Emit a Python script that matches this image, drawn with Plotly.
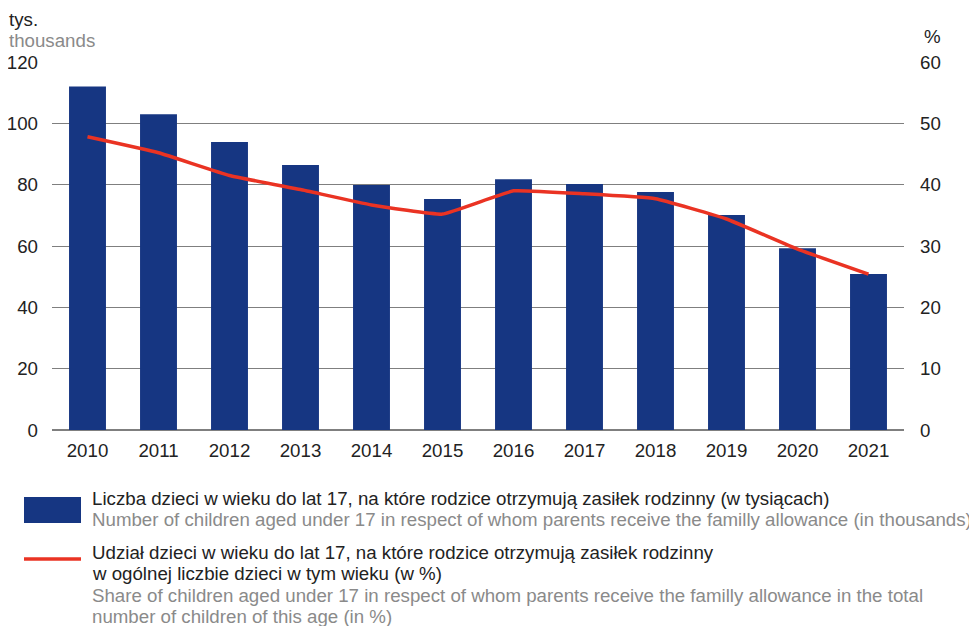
import plotly.graph_objects as go

years = ["2010", "2011", "2012", "2013", "2014", "2015", "2016", "2017", "2018", "2019", "2020", "2021"]
children_thousands = [112.0, 103.0, 93.9, 86.4, 79.9, 75.3, 81.8, 80.2, 77.6, 70.1, 59.3, 50.9]
share_percent = [47.8, 45.2, 41.5, 39.2, 36.7, 35.2, 39.0, 38.5, 37.7, 34.4, 29.5, 25.4]

left_ticks = [0, 20, 40, 60, 80, 100, 120]
right_ticks = [0, 10, 20, 30, 40, 50, 60]

BLUE = "#163682"
RED = "#EA3323"
DARK = "#222222"
GREY = "#8a8a8a"
FONT = "Liberation Sans, Arial, sans-serif"
FS = 18.7

OFF = 8  # page body margin offset
W, H = 977 - OFF, 626 - OFF
# plot area in page pixels: x 52..904, y 62..430
L = 52 - OFF
T = 62 - OFF
PW = 904 - 52
PH = 430 - 62
R = W - L - PW
B = H - T - PH

def px(x):
    return (x - OFF - L) / PW

def py(y):
    return (T + PH - (y - OFF)) / PH

fig = go.Figure()
fig.add_trace(go.Bar(x=years, y=children_thousands, marker_color=BLUE, marker_line_width=0,
                     name="bars", yaxis="y"))
fig.add_trace(go.Scatter(x=years, y=share_percent, mode="lines",
                         line=dict(color=RED, width=3.5, shape="spline", smoothing=0.3),
                         name="line", yaxis="y2"))

annotations = []
def txt(x, y, s, color, xanchor="left", yanchor="middle"):
    annotations.append(dict(x=px(x), y=py(y), xref="paper", yref="paper", text=s, showarrow=False,
                            xanchor=xanchor, yanchor=yanchor, borderpad=0,
                            font=dict(family=FONT, size=FS, color=color)))

txt(8, 8, "tys.", DARK, yanchor="top")
txt(8, 41, "thousands", GREY)
txt(942, 36, "%", DARK, xanchor="right")

txt(91, 498, "Liczba dzieci w wieku do lat 17, na które rodzice otrzymują zasiłek rodzinny (w tysiącach)", DARK)
txt(91, 519, "Number of children aged under 17 in respect of whom parents receive the familly allowance (in thousands)", GREY)
txt(91, 552, "Udział dzieci w wieku do lat 17, na które rodzice otrzymują zasiłek rodzinny", DARK)
txt(91, 573, "w ogólnej liczbie dzieci w tym wieku (w %)", DARK)
txt(91, 595, "Share of children aged under 17 in respect of whom parents receive the familly allowance in the total", GREY)
txt(91, 616, "number of children of this age (in %)", GREY)

shapes = [
    dict(type="rect", xref="paper", yref="paper", x0=px(24), x1=px(81), y0=py(497), y1=py(523),
         fillcolor=BLUE, line=dict(width=0)),
    dict(type="line", xref="paper", yref="paper", x0=px(24), x1=px(81), y0=py(559), y1=py(559),
         line=dict(color=RED, width=3.5)),
]

fig.update_layout(
    width=W, height=H,
    margin=dict(l=L, r=R, t=T, b=B, pad=0, autoexpand=False),
    plot_bgcolor="white", paper_bgcolor="white",
    showlegend=False,
    bargap=0.48,
    font=dict(family=FONT, size=FS, color=DARK),
    xaxis=dict(type="category", showgrid=False, showline=False, ticks="", zeroline=False, automargin=False,
               tickfont=dict(size=FS, color=DARK), ticklabelstandoff=7),
    yaxis=dict(range=[0, 120], tickvals=left_ticks, showgrid=True, gridcolor="#7f7f7f", gridwidth=1,
               zeroline=True, zerolinecolor="#7f7f7f", zerolinewidth=1.5, showline=False, ticks="",
               automargin=False, tickfont=dict(size=FS, color=DARK), ticklabelstandoff=13),
    yaxis2=dict(range=[0, 60], tickvals=right_ticks, overlaying="y", side="right", showgrid=False,
                zeroline=False, showline=False, ticks="", automargin=False,
                tickfont=dict(size=FS, color=DARK), ticklabelstandoff=15),
    annotations=annotations,
    shapes=shapes,
)

fig.write_html("out.html")
